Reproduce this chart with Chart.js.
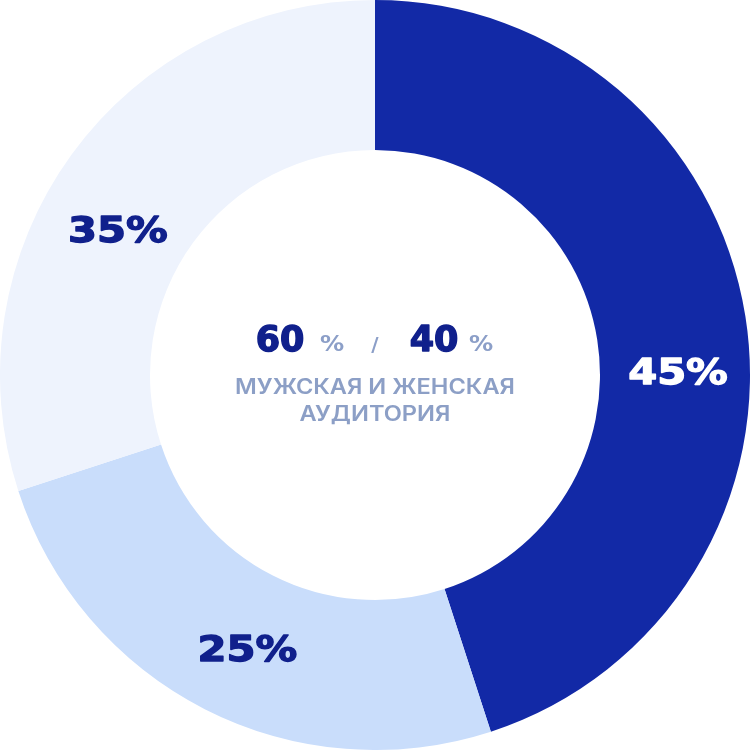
<!DOCTYPE html>
<html lang="ru">
<head>
  <meta charset="UTF-8">
  <title>Аудитория</title>
  <style>
    body {
      margin: 0;
      background-color: #ffffff;
    }
    #audienceChart {
      display: block;
    }
  </style>
  <script src="https://cdn.jsdelivr.net/npm/chart.js"></script>
</head>
<body>
  <canvas id="audienceChart" width="750" height="750"></canvas>

  <script>
    // segment sizes as drawn, and the labels printed on them
    const segments = ['A', 'B', 'C'];
    const segmentValues = [45, 25, 30];
    const segmentLabels = ['45%', '25%', '35%'];
    const segmentColors = ['#1229a6', '#c9ddfb', '#eef3fd'];
    const labelColors = ['#ffffff', '#10208c', '#10208c'];

    // centre block: male / female split
    const genderValues = [60, 40];
    const subtitleLines = ['МУЖСКАЯ И ЖЕНСКАЯ', 'АУДИТОРИЯ'];

    const FONT = '"DejaVu Sans", sans-serif';

    // draw text stretched horizontally (the original font is wider),
    // optional outline in the same colour to make it look heavier
    function wideText(ctx, text, x, y, stretch, heavy) {
      ctx.save();
      ctx.translate(x, y);
      ctx.scale(stretch, 1);
      if (heavy) {
        ctx.strokeStyle = ctx.fillStyle;
        ctx.lineWidth = heavy;
        ctx.lineJoin = 'round';
        ctx.strokeText(text, 0, 0);
      }
      ctx.fillText(text, 0, 0);
      ctx.restore();
    }

    const sliceLabels = {
      id: 'sliceLabels',
      afterDatasetsDraw(chart, args, opts) {
        const ctx = chart.ctx;
        const meta = chart.getDatasetMeta(0);
        ctx.save();
        ctx.font = 'bold 35px ' + FONT;
        ctx.textAlign = 'center';
        ctx.textBaseline = 'middle';
        meta.data.forEach((arc, i) => {
          const p = arc.getProps(['x', 'y', 'startAngle', 'endAngle', 'innerRadius', 'outerRadius']);
          // labels sit a bit off the slice middle in the original
          const a = p.startAngle + (p.endAngle - p.startAngle) * opts.anchor[i];
          const r = (p.innerRadius + p.outerRadius) / 2 + opts.shift[i];
          ctx.fillStyle = labelColors[i];
          wideText(ctx, segmentLabels[i], p.x + Math.cos(a) * r, p.y + Math.sin(a) * r, 1.19, 1.3);
        });
        ctx.restore();
      }
    };

    const centerText = {
      id: 'centerText',
      afterDraw(chart) {
        const ctx = chart.ctx;
        const cx = (chart.chartArea.left + chart.chartArea.right) / 2;
        const cy = (chart.chartArea.top + chart.chartArea.bottom) / 2;
        ctx.save();
        ctx.textBaseline = 'alphabetic';
        ctx.textAlign = 'center';

        const base = cy - 24;
        // big numbers
        ctx.fillStyle = '#10208c';
        ctx.font = 'bold 35px ' + FONT;
        wideText(ctx, String(genderValues[0]), cx - 95, base, 1.0, 1.4);
        wideText(ctx, String(genderValues[1]), cx + 59, base, 1.0, 1.4);

        // small percent signs and slash
        ctx.fillStyle = '#8c9fc8';
        ctx.font = 'bold 21px ' + FONT;
        wideText(ctx, '%', cx - 43, base, 1.15);
        wideText(ctx, '%', cx + 106, base, 1.15);
        ctx.font = 'bold 20px ' + FONT;
        ctx.fillText('/', cx, base);

        // subtitle
        ctx.fillStyle = '#8c9fc6';
        ctx.font = '600 21px Inter, sans-serif';
        ctx.textBaseline = 'middle';
        const w = ctx.measureText(subtitleLines[0]).width;
        const s = 280 / w;
        wideText(ctx, subtitleLines[0], cx, cy + 13, s);
        wideText(ctx, subtitleLines[1], cx, cy + 40, s);
        ctx.restore();
      }
    };

    new Chart(document.getElementById('audienceChart'), {
      type: 'doughnut',
      data: {
        labels: segments,
        datasets: [{
          data: segmentValues,
          backgroundColor: segmentColors,
          borderWidth: 0
        }]
      },
      options: {
        responsive: false,
        animation: false,
        cutout: '60%',
        layout: { padding: 0 },
        plugins: {
          legend: { display: false },
          tooltip: { enabled: false },
          sliceLabels: {
            anchor: [0.556, 0.475, 0.435],
            shift: [3, 5, -6]
          }
        }
      },
      plugins: [sliceLabels, centerText]
    });
  </script>
</body>
</html>
